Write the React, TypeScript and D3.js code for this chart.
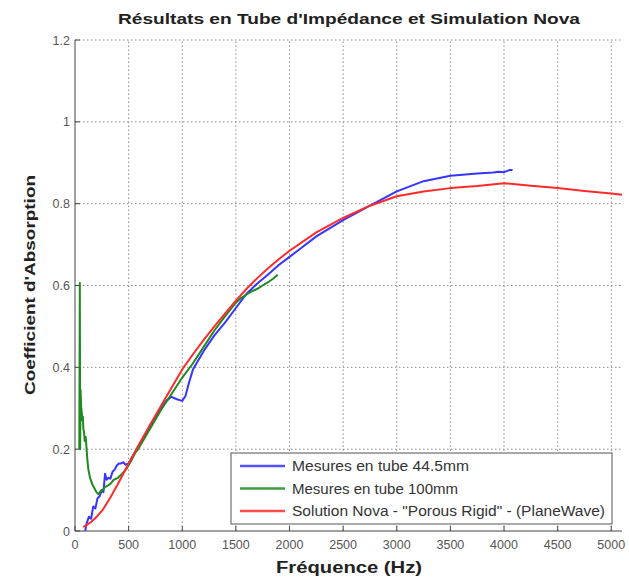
import React from "react";
import * as d3 from "d3";

const TITLE = "Résultats en Tube d'Impédance et Simulation Nova";
const X_LABEL = "Fréquence (Hz)";
const Y_LABEL = "Coefficient d'Absorption";
const X_TICKS = [0, 500, 1000, 1500, 2000, 2500, 3000, 3500, 4000, 4500, 5000];
const Y_TICKS = [0, 0.2, 0.4, 0.6, 0.8, 1, 1.2];
const LEGEND = [
  "Mesures en tube 44.5mm",
  "Mesures en tube 100mm",
  'Solution Nova - "Porous Rigid" - (PlaneWave)',
];
const COLORS = ["#3535ff", "#1f8a1f", "#ff2b2b"];

const blue: [number, number][] = [
  [95, 0.0], [110, 0.02], [130, 0.035], [150, 0.03], [170, 0.06], [190, 0.055],
  [210, 0.08], [230, 0.085], [250, 0.1], [265, 0.095], [280, 0.14], [295, 0.125],
  [310, 0.13], [330, 0.128], [350, 0.145], [370, 0.15], [390, 0.16], [410, 0.165],
  [430, 0.165], [450, 0.168], [470, 0.162], [500, 0.165], [550, 0.188], [600, 0.21],
  [650, 0.233], [700, 0.256], [750, 0.278], [800, 0.3], [850, 0.318], [900, 0.328],
  [950, 0.322], [1000, 0.318], [1030, 0.33], [1060, 0.36], [1100, 0.395], [1200, 0.44],
  [1300, 0.478], [1400, 0.51], [1500, 0.545], [1600, 0.58], [1700, 0.605], [1800, 0.627],
  [1900, 0.65], [2000, 0.67], [2100, 0.69], [2250, 0.72], [2500, 0.76], [2750, 0.795],
  [3000, 0.83], [3250, 0.855], [3500, 0.868], [3750, 0.874], [3900, 0.876], [3950, 0.878],
  [4000, 0.877], [4050, 0.882], [4080, 0.882],
];

const green: [number, number][] = [
  [40, 0.2], [45, 0.606], [48, 0.2], [52, 0.345], [58, 0.3], [63, 0.29], [68, 0.27],
  [73, 0.28], [78, 0.25], [85, 0.24], [90, 0.22], [100, 0.23], [108, 0.2], [115, 0.175],
  [125, 0.15], [140, 0.13], [160, 0.115], [180, 0.105], [200, 0.095], [220, 0.09],
  [240, 0.098], [260, 0.1], [280, 0.108], [300, 0.11], [330, 0.115], [360, 0.125],
  [400, 0.13], [440, 0.14], [480, 0.152], [520, 0.17], [560, 0.19], [600, 0.205],
  [700, 0.25], [800, 0.295], [900, 0.335], [1000, 0.375], [1100, 0.41], [1200, 0.45],
  [1300, 0.49], [1400, 0.525], [1500, 0.558], [1550, 0.57], [1600, 0.578], [1650, 0.586],
  [1700, 0.592], [1750, 0.6], [1800, 0.608], [1850, 0.617], [1890, 0.626],
];

const red: [number, number][] = [
  [75, 0.01], [100, 0.013], [150, 0.022], [200, 0.034], [262, 0.053], [330, 0.082],
  [400, 0.115], [500, 0.165], [600, 0.213], [700, 0.26], [800, 0.305], [900, 0.35],
  [1000, 0.395], [1100, 0.432], [1200, 0.467], [1300, 0.5], [1400, 0.532], [1500, 0.563],
  [1600, 0.592], [1700, 0.618], [1800, 0.642], [1900, 0.664], [2000, 0.685], [2250, 0.73],
  [2500, 0.765], [2750, 0.795], [3000, 0.818], [3250, 0.83], [3500, 0.838], [3750, 0.843],
  [4000, 0.85], [4250, 0.844], [4500, 0.838], [4750, 0.831], [5000, 0.825], [5100, 0.822],
];

const SERIES = [blue, green, red];

export default function App() {
  const x = d3.scaleLinear().domain([0, 5100]).range([75, 622]);
  const y = d3.scaleLinear().domain([0, 1.2]).range([531, 40]);
  const line = d3
    .line<[number, number]>()
    .x((d) => x(d[0]))
    .y((d) => y(d[1]));
  const gridColor = "#8a8a8a";
  const font = "'Liberation Sans', Arial, sans-serif";
  const xEnd = x(5100);

  return (
    <svg
      width={629}
      height={579}
      style={{ position: "absolute", left: 0, top: 0, background: "#fff" }}
      fontFamily={font}
    >
      <rect x={0} y={0} width={629} height={579} fill="#fff" />
      {/* grid */}
      {Y_TICKS.filter((v) => v > 0).map((v) => (
        <line
          key={"gy" + v}
          x1={x(0)}
          x2={xEnd}
          y1={y(v)}
          y2={y(v)}
          stroke={gridColor}
          strokeWidth={1}
          strokeDasharray="1.5,2.5"
        />
      ))}
      {X_TICKS.filter((v) => v > 0).map((v) => (
        <line
          key={"gx" + v}
          x1={x(v)}
          x2={x(v)}
          y1={y(0)}
          y2={y(1.2)}
          stroke={gridColor}
          strokeWidth={1}
          strokeDasharray="1.5,2.5"
        />
      ))}
      {/* axes */}
      <line x1={x(0)} x2={xEnd} y1={y(0)} y2={y(0)} stroke="#444" strokeWidth={1} />
      <line x1={x(0)} x2={x(0)} y1={y(0)} y2={y(1.2)} stroke="#444" strokeWidth={1} />
      {X_TICKS.map((v) => (
        <line key={"tx" + v} x1={x(v)} x2={x(v)} y1={y(0)} y2={y(0) - 5} stroke="#444" />
      ))}
      {Y_TICKS.map((v) => (
        <line key={"ty" + v} x1={x(0)} x2={x(0) + 5} y1={y(v)} y2={y(v)} stroke="#444" />
      ))}
      {/* tick labels */}
      {X_TICKS.map((v) => (
        <text
          key={"lx" + v}
          x={x(v)}
          y={y(0) + 18}
          textAnchor="middle"
          fontSize={12.5}
          fill="#555"
        >
          {v}
        </text>
      ))}
      {Y_TICKS.map((v) => (
        <text
          key={"ly" + v}
          x={x(0) - 5}
          y={y(v) + 4.5}
          textAnchor="end"
          fontSize={12.5}
          fill="#555"
        >
          {String(v)}
        </text>
      ))}
      {/* data */}
      <g clipPath="url(#clip)">
        {SERIES.map((s, i) => (
          <path
            key={"s" + i}
            d={line(s) || ""}
            fill="none"
            stroke={COLORS[i]}
            strokeWidth={2}
            strokeLinejoin="round"
          />
        ))}
      </g>
      <defs>
        <clipPath id="clip">
          <rect x={x(0)} y={y(1.2)} width={xEnd - x(0)} height={y(0) - y(1.2)} />
        </clipPath>
      </defs>
      {/* legend */}
      <g>
        <rect x={231} y={453} width={381} height={71} fill="#fff" stroke="#555" strokeWidth={1} />
        {LEGEND.map((t, i) => (
          <g key={"lg" + i}>
            <line
              x1={240}
              x2={285}
              y1={466 + i * 22.5}
              y2={466 + i * 22.5}
              stroke={COLORS[i]}
              strokeWidth={2.5}
              opacity={0.85}
            />
            <text
              x={292}
              y={466 + i * 22.5 + 5}
              fontSize={14}
              fill="#333"
              textLength={i === 0 ? 177 : i === 1 ? 166 : 313}
              lengthAdjust="spacingAndGlyphs"
            >
              {t}
            </text>
          </g>
        ))}
      </g>
      {/* title & labels */}
      <text
        x={349}
        y={24}
        textAnchor="middle"
        fontSize={15}
        fontWeight="bold"
        fill="#222"
        textLength={462}
        lengthAdjust="spacingAndGlyphs"
      >
        {TITLE}
      </text>
      <text
        x={349}
        y={573}
        textAnchor="middle"
        fontSize={16}
        fontWeight="bold"
        fill="#222"
        textLength={146}
        lengthAdjust="spacingAndGlyphs"
      >
        {X_LABEL}
      </text>
      <text
        transform={`translate(35, 285) rotate(-90)`}
        textAnchor="middle"
        fontSize={15}
        fontWeight="bold"
        fill="#222"
        textLength={220}
        lengthAdjust="spacingAndGlyphs"
      >
        {Y_LABEL}
      </text>
    </svg>
  );
}
